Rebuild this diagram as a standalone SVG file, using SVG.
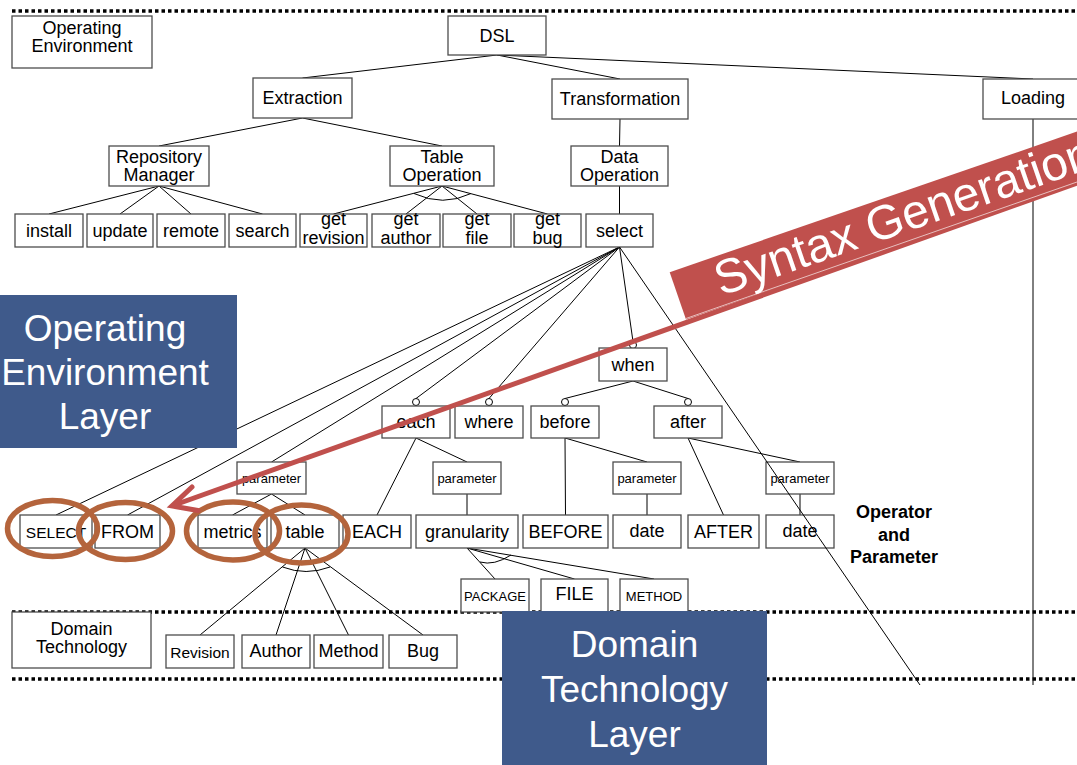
<svg xmlns="http://www.w3.org/2000/svg" width="1077" height="765" viewBox="0 0 1077 765">
<style>
.b{fill:#fff;stroke:#4d4d4d;stroke-width:1.3}
.t{font-family:"Liberation Sans",Arial,sans-serif;font-size:18px;text-anchor:middle;fill:#000}
.sm{font-size:13px}
.md{font-size:15.5px}
.c line,.c path{stroke:#000;stroke-width:1;fill:none}
.ci{fill:#fff;stroke:#000;stroke-width:1}
.dot{stroke:#000;stroke-width:3.5;stroke-dasharray:3.5 3;fill:none}
.lay{fill:#3f5a8b}
.lt{font-family:"Liberation Sans",Arial,sans-serif;font-size:37px;text-anchor:middle;fill:#fff}
.ell{fill:none;stroke:#b4643c;stroke-width:5.5}
</style>
<rect width="1077" height="765" fill="#fff"/>
<!-- dotted layer lines -->
<line class="dot" x1="12" y1="11" x2="1077" y2="11"/>
<line class="dot" x1="12" y1="612" x2="1077" y2="612"/>
<line class="dot" x1="12" y1="679" x2="1077" y2="679"/>

<g id="connectors" class="c">
<line x1="497" y1="55" x2="302.5" y2="78"/>
<line x1="497" y1="55" x2="620" y2="79"/>
<line x1="497" y1="55" x2="1033" y2="79"/>
<line x1="302.5" y1="118" x2="159" y2="146"/>
<line x1="302.5" y1="118" x2="442" y2="146"/>
<line x1="620" y1="119" x2="619.5" y2="146"/>
<line x1="619.5" y1="186" x2="619.5" y2="214"/>
<line x1="159" y1="186" x2="49" y2="214"/>
<line x1="159" y1="186" x2="120" y2="214"/>
<line x1="159" y1="186" x2="191" y2="214"/>
<line x1="159" y1="186" x2="262.5" y2="214"/>
<line x1="442" y1="186" x2="333.5" y2="214"/>
<line x1="442" y1="186" x2="406" y2="214"/>
<line x1="442" y1="186" x2="477" y2="214"/>
<line x1="442" y1="186" x2="547.5" y2="214"/>
<path d="M414,193.5 Q443,207 471,193.5"/>
<line x1="619.5" y1="247" x2="56" y2="515"/>
<line x1="619.5" y1="247" x2="127.5" y2="515"/>
<line x1="619.5" y1="247" x2="271.5" y2="462"/>
<line x1="619.5" y1="247" x2="416" y2="398.5"/>
<line x1="619.5" y1="247" x2="489" y2="398.5"/>
<line x1="619.5" y1="247" x2="633" y2="341.5"/>
<line x1="633" y1="381" x2="565" y2="398.5"/>
<line x1="633" y1="381" x2="688" y2="398.5"/>
<line x1="271.5" y1="494" x2="232.5" y2="515"/>
<line x1="271.5" y1="494" x2="305" y2="515"/>
<line x1="305" y1="548" x2="200" y2="635"/>
<line x1="305" y1="548" x2="276" y2="635"/>
<line x1="305" y1="548" x2="348.5" y2="635"/>
<line x1="305" y1="548" x2="423" y2="635"/>
<path d="M282.5,567 Q306,576 330,567"/>
<line x1="416" y1="438" x2="377" y2="515"/>
<line x1="416" y1="438" x2="467" y2="462"/>
<line x1="467" y1="494" x2="467" y2="515"/>
<line x1="467" y1="548" x2="495" y2="579"/>
<line x1="467" y1="548" x2="574.5" y2="579"/>
<line x1="467" y1="548" x2="654" y2="579"/>
<path d="M480,562 Q494,566 511,555"/>
<line x1="565" y1="438" x2="565.5" y2="515"/>
<line x1="565" y1="438" x2="647" y2="462"/>
<line x1="647" y1="494" x2="647" y2="515"/>
<line x1="688" y1="438" x2="723.5" y2="515"/>
<line x1="688" y1="438" x2="800" y2="462"/>
<line x1="800" y1="494" x2="800" y2="515"/>
<line x1="1033" y1="119" x2="1033" y2="685"/>
<circle class="ci" cx="416" cy="402" r="3.5"/>
<circle class="ci" cx="489" cy="402" r="3.5"/>
<circle class="ci" cx="565" cy="402" r="3.5"/>
<circle class="ci" cx="688" cy="402" r="3.5"/>
<circle class="ci" cx="633" cy="345" r="3.5"/>
</g>

<g id="n-openv"><rect class="b" x="12" y="16" width="140" height="52"/><text class="t" x="82" y="34">Operating</text><text class="t" x="82" y="52">Environment</text></g>
<g id="n-dsl"><rect class="b" x="448" y="16" width="98" height="39"/><text class="t" x="497" y="42">DSL</text></g>
<g id="n-extraction"><rect class="b" x="253" y="78" width="99" height="40"/><text class="t" x="302.5" y="104">Extraction</text></g>
<g id="n-transformation"><rect class="b" x="552" y="79" width="136" height="40"/><text class="t" x="620" y="105">Transformation</text></g>
<g id="n-loading"><rect class="b" x="983" y="79" width="110" height="40"/><text class="t" x="1033" y="104">Loading</text></g>
<g id="n-repo"><rect class="b" x="109" y="146" width="100" height="40"/><text class="t" x="159" y="163">Repository</text><text class="t" x="159" y="181">Manager</text></g>
<g id="n-tableop"><rect class="b" x="390" y="146" width="104" height="40"/><text class="t" x="442" y="163">Table</text><text class="t" x="442" y="181">Operation</text></g>
<g id="n-dataop"><rect class="b" x="571" y="146" width="97" height="40"/><text class="t" x="619.5" y="163">Data</text><text class="t" x="619.5" y="181">Operation</text></g>
<g id="n-install"><rect class="b" x="15" y="214" width="68" height="33"/><text class="t" x="49" y="237">install</text></g>
<g id="n-update"><rect class="b" x="87" y="214" width="66" height="33"/><text class="t" x="120" y="237">update</text></g>
<g id="n-remote"><rect class="b" x="157" y="214" width="68" height="33"/><text class="t" x="191" y="237">remote</text></g>
<g id="n-search"><rect class="b" x="229" y="214" width="67" height="33"/><text class="t" x="262.5" y="237">search</text></g>
<g id="n-getrev"><rect class="b" x="300" y="214" width="67" height="33"/><text class="t" x="333.5" y="225">get</text><text class="t" x="333.5" y="244">revision</text></g>
<g id="n-getauthor"><rect class="b" x="372" y="214" width="68" height="33"/><text class="t" x="406" y="225">get</text><text class="t" x="406" y="244">author</text></g>
<g id="n-getfile"><rect class="b" x="443" y="214" width="68" height="33"/><text class="t" x="477" y="225">get</text><text class="t" x="477" y="244">file</text></g>
<g id="n-getbug"><rect class="b" x="514" y="214" width="67" height="33"/><text class="t" x="547.5" y="225">get</text><text class="t" x="547.5" y="244">bug</text></g>
<g id="n-select"><rect class="b" x="586" y="214" width="67" height="33"/><text class="t" x="619.5" y="237">select</text></g>
<g id="n-when"><rect class="b" x="599" y="348" width="68" height="33"/><text class="t" x="633" y="371">when</text></g>
<g id="n-each"><rect class="b" x="382" y="406" width="68" height="32"/><text class="t" x="416" y="428">each</text></g>
<g id="n-where"><rect class="b" x="455" y="406" width="68" height="32"/><text class="t" x="489" y="428">where</text></g>
<g id="n-before"><rect class="b" x="531" y="406" width="68" height="32"/><text class="t" x="565" y="428">before</text></g>
<g id="n-after"><rect class="b" x="654" y="406" width="68" height="32"/><text class="t" x="688" y="428">after</text></g>
<g id="n-paramA"><rect class="b" x="237" y="462" width="69" height="32"/><text class="t sm" x="271.5" y="483">parameter</text></g>
<g id="n-paramB"><rect class="b" x="433" y="462" width="68" height="32"/><text class="t sm" x="467" y="483">parameter</text></g>
<g id="n-paramC"><rect class="b" x="613" y="462" width="68" height="32"/><text class="t sm" x="647" y="483">parameter</text></g>
<g id="n-paramD"><rect class="b" x="766" y="462" width="68" height="32"/><text class="t sm" x="800" y="483">parameter</text></g>
<g id="n-SELECT"><rect class="b" x="20" y="515" width="72" height="33"/><text class="t md" x="56" y="538">SELECT</text></g>
<g id="n-FROM"><rect class="b" x="95" y="515" width="65" height="33"/><text class="t" x="127.5" y="538">FROM</text></g>
<g id="n-metrics"><rect class="b" x="198" y="515" width="69" height="33"/><text class="t" x="232.5" y="538">metrics</text></g>
<g id="n-table"><rect class="b" x="271" y="515" width="68" height="33"/><text class="t" x="305" y="538">table</text></g>
<g id="n-EACH"><rect class="b" x="343" y="515" width="68" height="33"/><text class="t" x="377" y="538">EACH</text></g>
<g id="n-granularity"><rect class="b" x="416" y="515" width="102" height="33"/><text class="t" x="467" y="538">granularity</text></g>
<g id="n-BEFORE"><rect class="b" x="523" y="515" width="85" height="33"/><text class="t" x="565.5" y="538">BEFORE</text></g>
<g id="n-date1"><rect class="b" x="613" y="515" width="68" height="33"/><text class="t" x="647" y="537">date</text></g>
<g id="n-AFTER"><rect class="b" x="688" y="515" width="71" height="33"/><text class="t" x="723.5" y="538">AFTER</text></g>
<g id="n-date2"><rect class="b" x="766" y="515" width="68" height="33"/><text class="t" x="800" y="537">date</text></g>
<g id="n-PACKAGE"><rect class="b" x="461" y="579" width="68" height="33"/><text class="t sm" x="495" y="601">PACKAGE</text></g>
<g id="n-FILE"><rect class="b" x="541" y="579" width="67" height="33"/><text class="t" x="574.5" y="600">FILE</text></g>
<g id="n-METHOD"><rect class="b" x="620" y="579" width="68" height="33"/><text class="t sm" x="654" y="601">METHOD</text></g>
<g id="n-domtech"><rect class="b" x="12" y="612" width="139" height="56"/><text class="t" x="81.5" y="635">Domain</text><text class="t" x="81.5" y="653">Technology</text></g>
<g id="n-Revision"><rect class="b" x="166" y="635" width="68" height="33"/><text class="t md" x="200" y="658">Revision</text></g>
<g id="n-Author"><rect class="b" x="242" y="635" width="68" height="33"/><text class="t" x="276" y="657">Author</text></g>
<g id="n-Method"><rect class="b" x="314" y="635" width="69" height="33"/><text class="t" x="348.5" y="657">Method</text></g>
<g id="n-Bug"><rect class="b" x="389" y="635" width="68" height="33"/><text class="t" x="423" y="657">Bug</text></g>

<g id="long-connector" class="c"><line x1="619.5" y1="247" x2="920" y2="685"/></g>

<g id="op-param-label"><text class="t" font-weight="bold" font-size="17.5" x="894" y="518">Operator</text><text class="t" font-weight="bold" font-size="17.5" x="894" y="541">and</text><text class="t" font-weight="bold" font-size="17.5" x="894" y="563">Parameter</text></g>

<g id="layer-openv"><rect class="lay" x="-5" y="295" width="242" height="153"/><text class="lt" x="105" y="341">Operating</text><text class="lt" x="105" y="385">Environment</text><text class="lt" x="105" y="429">Layer</text></g>
<g id="layer-domtech"><rect class="lay" x="502" y="611" width="265" height="160"/><text class="lt" x="634.5" y="657">Domain</text><text class="lt" x="634.5" y="702">Technology</text><text class="lt" x="634.5" y="747">Layer</text></g>

<g id="highlights">
<ellipse class="ell" cx="52.5" cy="528.5" rx="45" ry="28"/>
<ellipse class="ell" cx="125.5" cy="531" rx="47" ry="28.5"/>
<ellipse class="ell" cx="233" cy="531" rx="46.5" ry="29"/>
<ellipse class="ell" cx="301.5" cy="534" rx="46.5" ry="29"/>
</g>

<g id="syntax-generation">
<polygon points="686,319.5 669.7,272.2 1142.4,109 1158.7,156.3" fill="#c0504d"/>
<line x1="1090" y1="178.5" x2="173" y2="505.5" stroke="#c0504d" stroke-width="5"/>
<polyline points="192,487 172,506 198,510.5" fill="none" stroke="#c0504d" stroke-width="5" stroke-linejoin="miter" stroke-linecap="round"/>
<line x1="686" y1="318.5" x2="1077" y2="182" stroke="#fff" stroke-width="0.8" opacity="0.8"/>
<text x="721" y="296" transform="rotate(-19.05 721 296)" font-family="'Liberation Sans',Arial,sans-serif" font-size="48" fill="#fff">Syntax Generation</text>
</g>
</svg>
